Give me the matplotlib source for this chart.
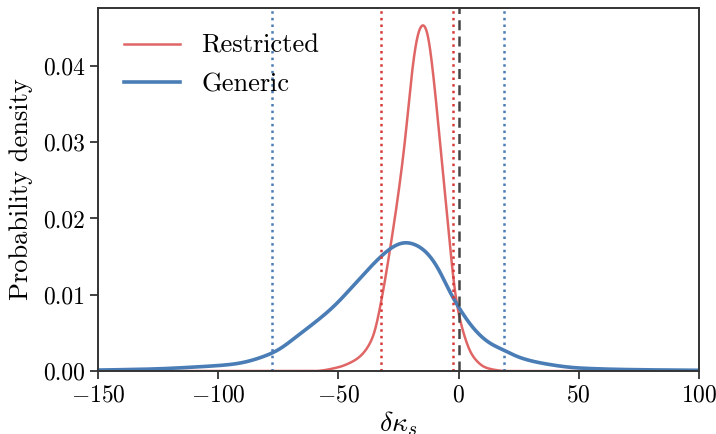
import numpy as np
import matplotlib
matplotlib.use("Agg")
import matplotlib.pyplot as plt

plt.rcParams.update({
    "font.family": "serif",
    "font.serif": ["cmr10", "DejaVu Serif"],
    "mathtext.fontset": "cm",
    "axes.formatter.use_mathtext": True,
    "axes.unicode_minus": True,
})

# Read-off density curves
generic_x = [-150, -128.3, -107.5, -93.7, -77.1, -65.9, -52.1, -40.9, -32.4, -27, -22.3,
             -17, -12, -7, -3.6, 0, 5, 13, 18.9, 25, 35.2, 50, 70, 100]
generic_y = [0.00013, 0.00026, 0.00057, 0.0009, 0.0024, 0.0049, 0.0084, 0.0122, 0.0150, 0.0164, 0.01695,
             0.0165, 0.0152, 0.0127, 0.0102, 0.0084, 0.0060, 0.0036, 0.00275, 0.0018, 0.0010, 0.0004, 0.0002, 0.0001]

restricted_x = [-150, -60, -50, -45, -41, -35.5, -32.3, -30, -27, -25.8, -22.3, -18.8, -16.5, -14.8,
                -13, -11.2, -7.7, -5, -4.3, -1.5, 1.3, 6, 11.7, 20, 100]
restricted_y = [0.0, 0.0, 0.0005, 0.0011, 0.0019, 0.0045, 0.0089, 0.0130, 0.0190, 0.0215, 0.0300, 0.0408, 0.0448, 0.0456,
                0.0447, 0.0408, 0.0300, 0.0211, 0.0190, 0.0102, 0.0058, 0.0019, 0.0004, 0.0, 0.0]

generic_bounds = [-77.6, 18.9]
restricted_bounds = [-32.3, -2.3]
xticks = [-150, -100, -50, 0, 50, 100]
yticks = [0.00, 0.01, 0.02, 0.03, 0.04]


def pchip(x, y, xs):
    x = np.asarray(x, float); y = np.asarray(y, float)
    h = np.diff(x); d = np.diff(y) / h
    m = np.zeros_like(y)
    for k in range(1, len(x) - 1):
        if d[k - 1] * d[k] > 0:
            w1 = 2 * h[k] + h[k - 1]; w2 = h[k] + 2 * h[k - 1]
            m[k] = (w1 + w2) / (w1 / d[k - 1] + w2 / d[k])
    m[0] = d[0]; m[-1] = d[-1]
    idx = np.clip(np.searchsorted(x, xs) - 1, 0, len(x) - 2)
    t = (xs - x[idx]) / h[idx]
    h00 = 2 * t**3 - 3 * t**2 + 1; h10 = t**3 - 2 * t**2 + t
    h01 = -2 * t**3 + 3 * t**2; h11 = t**3 - t**2
    return h00 * y[idx] + h10 * h[idx] * m[idx] + h01 * y[idx + 1] + h11 * h[idx] * m[idx + 1]


def smooth(xs, ys, sigma):
    dx = xs[1] - xs[0]
    n = int(4 * sigma / dx)
    k = np.exp(-0.5 * (np.arange(-n, n + 1) * dx / sigma) ** 2)
    k /= k.sum()
    padded = np.concatenate([np.full(n, ys[0]), ys, np.full(n, ys[-1])])
    return np.convolve(padded, k, mode="valid")


xs = np.linspace(-150, 100, 2501)
red = "#e06666"
blue = "#4a7db5"

fig = plt.figure(figsize=(7.16, 4.34), dpi=100)
ax = fig.add_axes([0.137, 0.145, 0.839, 0.837])

ax.plot(xs, smooth(xs, pchip(restricted_x, restricted_y, xs), 1.0), color=red, lw=1.8, label="Restricted")
ax.plot(xs, smooth(xs, pchip(generic_x, generic_y, xs), 2.5), color=blue, lw=2.6, label="Generic")

for b in restricted_bounds:
    ax.axvline(b, color="#d63a3a", ls=":", lw=1.8)
for b in generic_bounds:
    ax.axvline(b, color=blue, ls=":", lw=1.8)
ax.axvline(0, color="#444444", ls="--", lw=1.8, dashes=(4, 2.5))

ax.set_xlim(-150, 100)
ax.set_ylim(0, 0.0476)
ax.set_xticks(xticks)
ax.set_yticks(yticks)
ax.set_yticklabels([f"{v:.2f}" for v in yticks])
ax.set_xticklabels([f"${v}$" for v in xticks])
ax.tick_params(labelsize=17, direction="out", length=6, width=1.3, color="#333333")
for s in ax.spines.values():
    s.set_linewidth(1.4)
    s.set_color("#333333")

ax.set_xlabel(r"$\delta\kappa_s$", fontsize=20, labelpad=2)
ax.set_ylabel("Probability density", fontsize=19, labelpad=7)

leg = ax.legend(loc="upper left", frameon=False, fontsize=19, handlelength=2.1,
                handletextpad=0.8, borderaxespad=0.6, labelspacing=0.55)

fig.savefig("out.png", dpi=100)
